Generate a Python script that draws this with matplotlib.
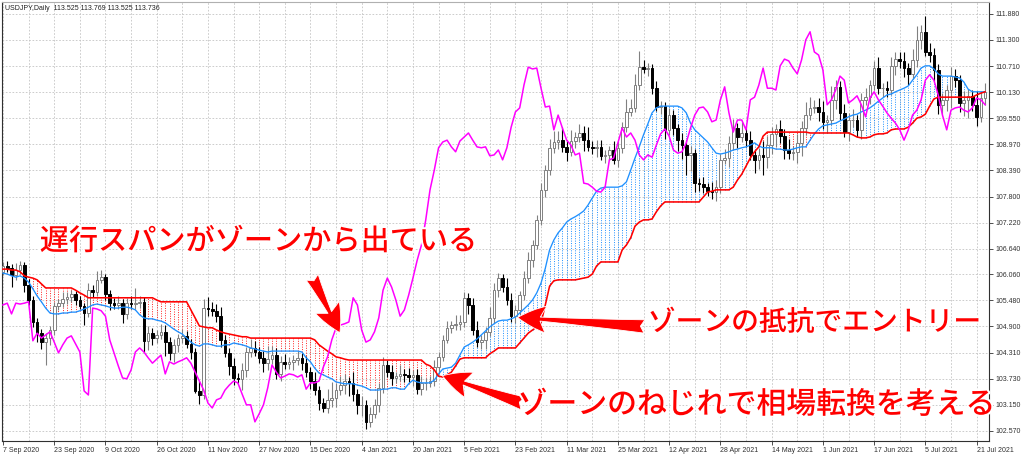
"""USDJPY daily chart (Sep 2020 - Jul 2021) with the zone (span A / span B),
the lagging span and three red call-outs, drawn in MetaTrader style."""
import matplotlib
matplotlib.use("Agg")
import matplotlib.pyplot as plt
import matplotlib.patheffects as pe
import numpy as np

# daily closes, one per bar, 7 Sep 2020 ... 23 Jul 2021 (visible bars)
closes = [
    106.25, 106.21, 106.05, 106.16, 106.27, 105.83, 105.49, 105.00, 104.75, 104.55,
    104.64, 104.82, 105.36, 105.42, 105.51, 105.56, 105.62, 105.49, 105.36, 105.20,
    105.71, 105.67, 105.94, 106.00, 105.62, 105.42, 105.38, 105.42, 105.18, 105.42,
    105.40, 105.42, 105.45, 104.58, 104.75, 104.64, 104.71, 104.78, 104.55, 104.31,
    104.49, 104.64, 104.69, 104.51, 104.33, 103.46, 103.37, 105.31, 105.29, 105.25,
    105.13, 104.60, 104.31, 104.02, 103.75, 103.73, 103.93, 104.33, 104.42, 104.33,
    104.20, 104.08, 104.17, 104.26, 103.84, 104.11, 104.06, 104.11, 104.15, 104.20,
    104.08, 103.88, 103.68, 103.48, 103.19, 103.08, 103.26, 103.30, 103.48, 103.59,
    103.68, 103.64, 103.39, 103.15, 103.15, 102.77, 102.95, 103.15, 103.53, 104.04,
    103.88, 103.75, 103.79, 103.84, 103.82, 103.77, 103.82, 103.50, 103.64, 103.64,
    103.68, 103.99, 104.22, 104.60, 104.87, 104.93, 104.96, 105.00, 105.54, 105.38,
    104.82, 104.55, 104.60, 104.78, 105.09, 105.71, 105.98, 105.78, 105.49, 105.13,
    105.27, 105.60, 105.98, 106.38, 106.72, 107.28, 107.95, 108.39, 108.89, 109.02,
    109.06, 108.91, 108.80, 109.04, 109.13, 109.22, 109.06, 108.91, 108.89, 108.91,
    108.71, 108.73, 108.84, 108.62, 108.89, 109.35, 109.69, 109.78, 110.29, 110.69,
    110.65, 110.67, 110.22, 109.80, 109.82, 109.29, 109.62, 109.33, 109.06, 108.95,
    108.73, 108.77, 108.10, 108.08, 108.01, 107.92, 107.90, 108.01, 108.62, 108.66,
    109.00, 109.33, 109.13, 109.22, 109.06, 108.73, 108.62, 108.73, 108.68, 108.95,
    109.20, 109.31, 109.15, 108.84, 108.77, 108.80, 109.00, 109.33, 109.62, 109.78,
    109.80, 109.69, 109.47, 109.51, 109.96, 110.25, 109.67, 109.24, 109.51, 109.51,
    109.29, 109.96, 110.02, 110.29, 110.67, 110.22, 110.22, 110.18, 110.72, 110.87,
    110.83, 110.67, 110.54, 110.85, 111.30, 111.48, 111.03, 110.96, 110.63, 109.85,
    109.96, 110.18, 110.49, 110.40, 109.89, 109.96, 110.05, 109.85, 109.58, 110.00,
    110.14,
]
# closes after the right edge of the chart, only seen through the lagging span
later_closes = [
    109.96, 109.82, 109.67, 109.55, 109.44, 109.29, 109.06, 109.29, 109.62, 109.73,
    109.96, 110.40, 110.52, 110.40, 110.07, 109.62, 109.29, 109.73, 109.78, 109.80,
    109.73, 109.69, 109.78, 110.00, 109.96, 109.85,
]
first_open = 106.12

# wick length beyond the candle body
upper_wick = [
    0.10, 0.12, 0.08, 0.15, 0.10, 0.07, 0.12, 0.10, 0.08, 0.10,
    0.12, 0.10, 0.08, 0.10, 0.15, 0.12, 0.10, 0.08, 0.10, 0.06,
    0.15, 0.12, 0.20, 0.15, 0.08, 0.10, 0.12, 0.15, 0.10, 0.12,
    0.15, 0.33, 0.12, 0.10, 0.15, 0.12, 0.10, 0.18, 0.15, 0.12,
    0.12, 0.10, 0.15, 0.10, 0.12, 0.08, 0.22, 0.20, 0.25, 0.15,
    0.15, 0.20, 0.12, 0.10, 0.18, 0.12, 0.15, 0.10, 0.20, 0.15,
    0.12, 0.15, 0.30, 0.20, 0.15, 0.12, 0.18, 0.10, 0.12, 0.15,
    0.10, 0.15, 0.12, 0.20, 0.10, 0.12, 0.25, 0.35, 0.15, 0.20,
    0.15, 0.10, 0.25, 0.12, 0.20, 0.10, 0.15, 0.12, 0.10, 0.18,
    0.12, 0.15, 0.10, 0.20, 0.12, 0.15, 0.10, 0.12, 0.15, 0.10,
    0.12, 0.15, 0.10, 0.12, 0.15, 0.10, 0.20, 0.15, 0.12, 0.10,
    0.15, 0.20, 0.12, 0.10, 0.25, 0.15, 0.12, 0.10, 0.20, 0.15,
    0.12, 0.10, 0.15, 0.18, 0.12, 0.10, 0.15, 0.12, 0.20, 0.25,
    0.20, 0.30, 0.15, 0.25, 0.12, 0.20, 0.15, 0.30, 0.12, 0.15,
    0.15, 0.12, 0.10, 0.20, 0.15, 0.12, 0.30, 0.20, 0.25, 0.35,
    0.15, 0.12, 0.10, 0.15, 0.12, 0.10, 0.15, 0.12, 0.10, 0.15,
    0.12, 0.15, 0.10, 0.12, 0.15, 0.10, 0.20, 0.15, 0.12, 0.20,
    0.15, 0.20, 0.12, 0.25, 0.15, 0.20, 0.12, 0.15, 0.30, 0.20,
    0.15, 0.12, 0.20, 0.15, 0.25, 0.12, 0.20, 0.15, 0.30, 0.25,
    0.15, 0.20, 0.25, 0.12, 0.30, 0.15, 0.12, 0.20, 0.15, 0.25,
    0.12, 0.15, 0.20, 0.12, 0.15, 0.25, 0.12, 0.15, 0.20, 0.15,
    0.15, 0.20, 0.12, 0.25, 0.30, 0.15, 0.35, 0.20, 0.15, 0.12,
    0.15, 0.12, 0.20, 0.15, 0.12, 0.20, 0.15, 0.12, 0.30, 0.15,
    0.20,
]
lower_wick = [
    0.08, 0.10, 0.27, 0.12, 0.10, 0.15, 0.10, 0.12, 0.20, 0.15,
    0.50, 0.15, 0.12, 0.10, 0.08, 0.10, 0.12, 0.10, 0.08, 0.27,
    0.10, 0.12, 0.10, 0.08, 0.12, 0.15, 0.10, 0.08, 0.20, 0.12,
    0.10, 0.12, 0.10, 0.25, 0.20, 0.15, 0.12, 0.10, 0.30, 0.15,
    0.20, 0.15, 0.12, 0.10, 0.15, 0.05, 0.20, 0.10, 0.15, 0.12,
    0.12, 0.15, 0.10, 0.20, 0.15, 0.10, 0.25, 0.15, 0.12, 0.10,
    0.12, 0.20, 0.15, 0.10, 0.12, 0.15, 0.10, 0.12, 0.18, 0.10,
    0.15, 0.10, 0.18, 0.12, 0.15, 0.10, 0.12, 0.15, 0.20, 0.12,
    0.20, 0.30, 0.15, 0.20, 0.25, 0.15, 0.12, 0.10, 0.15, 0.12,
    0.10, 0.15, 0.12, 0.10, 0.15, 0.12, 0.20, 0.10, 0.12, 0.15,
    0.10, 0.12, 0.15, 0.10, 0.08, 0.12, 0.10, 0.15, 0.12, 0.20,
    0.12, 0.10, 0.15, 0.20, 0.10, 0.12, 0.15, 0.12, 0.10, 0.12,
    0.15, 0.12, 0.10, 0.12, 0.15, 0.10, 0.12, 0.15, 0.10, 0.12,
    0.15, 0.12, 0.20, 0.10, 0.15, 0.12, 0.25, 0.10, 0.15, 0.20,
    0.10, 0.15, 0.12, 0.10, 0.15, 0.12, 0.10, 0.08, 0.10, 0.12,
    0.10, 0.15, 0.12, 0.10, 0.15, 0.20, 0.12, 0.15, 0.25, 0.30,
    0.45, 0.35, 0.20, 0.15, 0.12, 0.10, 0.15, 0.20, 0.12, 0.10,
    0.20, 0.15, 0.25, 0.12, 0.15, 0.12, 0.30, 0.20, 0.40, 0.25,
    0.20, 0.30, 0.15, 0.20, 0.12, 0.15, 0.25, 0.30, 0.15, 0.12,
    0.12, 0.20, 0.15, 0.25, 0.12, 0.20, 0.15, 0.12, 0.20, 0.15,
    0.15, 0.20, 0.12, 0.15, 0.10, 0.12, 0.20, 0.15, 0.12, 0.20,
    0.15, 0.20, 0.25, 0.12, 0.15, 0.20, 0.10, 0.15, 0.25, 0.20,
    0.20, 0.25, 0.40, 0.15, 0.20, 0.30, 0.40, 0.15, 0.20, 0.12,
    0.15,
]

# zone edges: blue line (span A) and red line (span B)
span_a = [
    106.09, 106.07, 106.03, 106.00, 106.03, 105.98, 105.89, 105.74, 105.58, 105.45,
    105.31, 105.20, 105.18, 105.18, 105.20, 105.20, 105.22, 105.22, 105.25, 105.29,
    105.33, 105.38, 105.40, 105.38, 105.36, 105.33, 105.31, 105.31, 105.33, 105.33,
    105.31, 105.27, 105.16, 105.09, 105.07, 105.07, 105.04, 105.02, 104.98, 104.91,
    104.84, 104.78, 104.73, 104.64, 104.55, 104.49, 104.46, 104.51, 104.51, 104.49,
    104.46, 104.46, 104.49, 104.49, 104.53, 104.51, 104.49, 104.46, 104.42, 104.40,
    104.37, 104.35, 104.33, 104.35, 104.35, 104.35, 104.35, 104.35, 104.35, 104.35,
    104.33, 104.20, 104.11, 103.97, 103.86, 103.82, 103.77, 103.73, 103.66, 103.64,
    103.62, 103.62, 103.62, 103.59, 103.57, 103.53, 103.48, 103.48, 103.48, 103.50,
    103.50, 103.53, 103.53, 103.50, 103.50, 103.62, 103.70, 103.66, 103.64, 103.64,
    103.64, 103.70, 103.84, 103.95, 103.97, 103.99, 104.08, 104.26, 104.44, 104.49,
    104.55, 104.62, 104.71, 104.80, 104.89, 104.96, 105.02, 105.04, 105.04, 105.07,
    105.11, 105.20, 105.29, 105.38, 105.49, 105.65, 105.87, 106.20, 106.61, 106.83,
    106.99, 107.10, 107.23, 107.30, 107.35, 107.41, 107.48, 107.61, 107.77, 107.92,
    107.99, 108.01, 108.01, 108.01, 108.01, 108.04, 108.13, 108.39, 108.66, 108.91,
    109.18, 109.42, 109.67, 109.78, 109.82, 109.82, 109.82, 109.82, 109.82, 109.78,
    109.67, 109.44, 109.29, 109.20, 109.11, 109.02, 108.89, 108.77, 108.75, 108.77,
    108.80, 108.84, 108.86, 108.89, 108.91, 108.95, 109.00, 108.93, 108.89, 108.89,
    108.89, 108.86, 108.86, 108.84, 108.84, 108.86, 108.89, 108.91, 108.91, 109.06,
    109.20, 109.31, 109.38, 109.40, 109.42, 109.44, 109.49, 109.53, 109.58, 109.62,
    109.64, 109.69, 109.73, 109.78, 109.85, 109.93, 110.00, 110.07, 110.09, 110.14,
    110.18, 110.22, 110.27, 110.40, 110.52, 110.67, 110.72, 110.72, 110.65, 110.54,
    110.49, 110.49, 110.49, 110.47, 110.45, 110.36, 110.20, 110.14, 110.14, 110.14,
    110.14,
]
span_b = [
    106.18, 106.18, 106.16, 106.16, 106.12, 106.03, 106.00, 105.98, 105.94, 105.85,
    105.76, 105.76, 105.76, 105.76, 105.76, 105.76, 105.76, 105.71, 105.65, 105.60,
    105.54, 105.54, 105.54, 105.54, 105.54, 105.54, 105.54, 105.54, 105.54, 105.54,
    105.54, 105.54, 105.54, 105.54, 105.54, 105.54, 105.49, 105.45, 105.45, 105.45,
    105.45, 105.45, 105.45, 105.45, 105.27, 105.09, 104.91, 104.89, 104.87, 104.87,
    104.82, 104.78, 104.75, 104.73, 104.71, 104.69, 104.67, 104.67, 104.64, 104.64,
    104.64, 104.64, 104.64, 104.64, 104.64, 104.64, 104.64, 104.64, 104.64, 104.64,
    104.64, 104.64, 104.64, 104.60, 104.49, 104.42, 104.35, 104.29, 104.22, 104.20,
    104.17, 104.15, 104.15, 104.15, 104.15, 104.15, 104.15, 104.15, 104.15, 104.15,
    104.15, 104.15, 104.15, 104.15, 104.15, 104.15, 104.15, 104.15, 104.15, 104.06,
    104.02, 103.93, 103.79, 103.77, 103.82, 103.88, 104.02, 104.17, 104.20, 104.20,
    104.20, 104.20, 104.20, 104.20, 104.29, 104.35, 104.42, 104.42, 104.42, 104.42,
    104.42, 104.53, 104.64, 104.75, 104.82, 104.89, 104.98, 105.38, 105.80, 105.92,
    105.94, 105.94, 105.94, 105.94, 105.94, 105.96, 105.98, 106.00, 106.07, 106.25,
    106.34, 106.34, 106.34, 106.34, 106.34, 106.61, 106.72, 106.88, 107.14, 107.23,
    107.28, 107.28, 107.30, 107.46, 107.59, 107.68, 107.68, 107.68, 107.68, 107.68,
    107.68, 107.68, 107.68, 107.68, 107.79, 107.90, 107.92, 107.95, 107.95, 107.95,
    107.95, 108.01, 108.17, 108.30, 108.48, 108.66, 108.80, 108.91, 109.15, 109.24,
    109.24, 109.24, 109.24, 109.24, 109.24, 109.24, 109.24, 109.24, 109.24, 109.22,
    109.22, 109.22, 109.22, 109.22, 109.22, 109.22, 109.22, 109.22, 109.22, 109.18,
    109.13, 109.11, 109.11, 109.13, 109.18, 109.20, 109.20, 109.22, 109.29, 109.31,
    109.31, 109.31, 109.35, 109.44, 109.55, 109.58, 109.64, 109.82, 109.98, 110.02,
    110.02, 110.02, 110.02, 110.02, 110.02, 110.02, 110.02, 110.02, 110.07, 110.11,
    110.14,
]

date_labels = [
    "7 Sep 2020", "23 Sep 2020", "9 Oct 2020", "26 Oct 2020", "11 Nov 2020",
    "27 Nov 2020", "15 Dec 2020", "4 Jan 2021", "20 Jan 2021", "5 Feb 2021",
    "23 Feb 2021", "11 Mar 2021", "25 Mar 2021", "12 Apr 2021", "28 Apr 2021",
    "14 May 2021", "1 Jun 2021", "17 Jun 2021", "5 Jul 2021", "21 Jul 2021",
]
price_ticks = [
    102.570, 103.150, 103.730, 104.310, 104.900, 105.480, 106.060, 106.640,
    107.220, 107.800, 108.390, 108.970, 109.550, 110.130, 110.710, 111.300, 111.880,
]
header = "USDJPY,Daily  113.525 113.769 113.525 113.736"

# call-outs: (text, left edge bar, price, size) and arrows (tail bar, tail price, head bar, head price)
notes = [
    ("遅行スパンがゾーンから出ている", 8.6, 106.80, 21),
    ("ゾーンの抵抗でエントリー", 151.0, 105.00, 20),
    ("ゾーンのねじれで相場転換を考える", 120.5, 103.15, 21.5),
]
arrows = [
    (72.4, 106.00, 78.9, 104.76),
    (150.2, 104.90, 120.5, 105.10),
    (121.8, 103.18, 102.9, 103.80),
]

LAG = 26
LABEL_STEP = 12

c = np.array(closes)
o = np.concatenate([[first_open], c[:-1]])
hi = np.maximum(o, c) + np.array(upper_wick)
lo = np.minimum(o, c) - np.array(lower_wick)
x = np.arange(len(c))
a = np.array(span_a)
b = np.array(span_b)
lagging = np.array(closes + later_closes)[LAG:]

fig = plt.figure(figsize=(10.24, 4.55), dpi=100)
ax = fig.add_axes([2 / 1024, 14 / 455, 987 / 1024, 439 / 455])
ax.set_xlim(-0.23, 230.9)
ax.set_ylim(102.342, 112.145)

# grid
ax.set_xticks(x[::LABEL_STEP])
ax.set_xticks(x[LABEL_STEP // 2::LABEL_STEP], minor=True)
ax.set_xticklabels(date_labels)
ax.set_yticks(price_ticks)
ax.set_yticklabels([f"{v:.3f}" for v in price_ticks])
grid_kw = dict(color="#c4c4c4", linestyle=(0, (2, 2)), linewidth=0.6)
ax.grid(axis="x", which="both", **grid_kw)
ax.grid(axis="y", which="major", **grid_kw)
ax.set_axisbelow(True)

# zone hatching: one dotted vertical line per bar
up = a >= b
ax.vlines(x[up], b[up], a[up], colors="#1E90FF", linestyles=(0, (1, 1.5)),
          linewidth=0.7, zorder=2)
ax.vlines(x[~up], a[~up], b[~up], colors="#FF2020", linestyles=(0, (1, 1.5)),
          linewidth=0.7, zorder=2)

# candles
bull = c >= o
ax.vlines(x[bull], lo[bull], hi[bull], color="#808080", linewidth=0.8, zorder=3)
ax.vlines(x[~bull], lo[~bull], hi[~bull], color="black", linewidth=0.8, zorder=3)
ax.bar(x[bull], (c - o)[bull], bottom=o[bull], width=0.62, facecolor="white",
       edgecolor="#808080", linewidth=0.7, zorder=4)
ax.bar(x[~bull], (o - c)[~bull], bottom=c[~bull], width=0.62, facecolor="black",
       edgecolor="black", linewidth=0.7, zorder=4)

# indicator lines
ax.plot(x, a, color="#1E90FF", linewidth=0.95, zorder=5)
ax.plot(x, b, color="#FF0000", linewidth=1.15, zorder=5)
ax.plot(x, lagging, color="#FF00FF", linewidth=1.1, zorder=5)

# axes cosmetics
ax.yaxis.tick_right()
for side in ("left", "right", "bottom"):
    ax.spines[side].set_color("#303030")
    ax.spines[side].set_linewidth(0.8)
ax.spines["top"].set_color("#b0b0b0")
ax.tick_params(axis="y", direction="out", length=3, width=0.6, pad=2,
               labelsize=5, labelcolor="#303030", color="#303030")
ax.tick_params(axis="x", which="major", direction="out", length=3, width=0.6,
               pad=1, labelsize=5, labelcolor="#303030", color="#303030")
ax.tick_params(axis="x", which="minor", length=0)
for lab in ax.get_xticklabels() + ax.get_yticklabels():
    lab.set_family("Liberation Sans")
for lab in ax.get_xticklabels():
    lab.set_horizontalalignment("left")

ax.text(0.003, 0.993, header, transform=ax.transAxes, va="top", ha="left",
        fontsize=5, family="Liberation Sans", color="#202020")

# call-outs
stroke = [pe.withStroke(linewidth=3, foreground="white")]
for text, bx, price, size in notes:
    ax.text(bx, price, text, fontsize=size, color="#FF0000", va="center",
            ha="left", family=["Noto Sans CJK JP", "DejaVu Sans"],
            weight="medium", path_effects=stroke, zorder=8, clip_on=False)
for tx, ty, hx, hy in arrows:
    ax.annotate("", xy=(hx, hy), xytext=(tx, ty), zorder=7,
                arrowprops=dict(arrowstyle="fancy,head_length=0.85,head_width=0.8,"
                                           "tail_width=0.4",
                                fc="#FF0000", ec="white", lw=0.6,
                                mutation_scale=24, shrinkA=0, shrinkB=0))

fig.savefig("out.png", dpi=100)
